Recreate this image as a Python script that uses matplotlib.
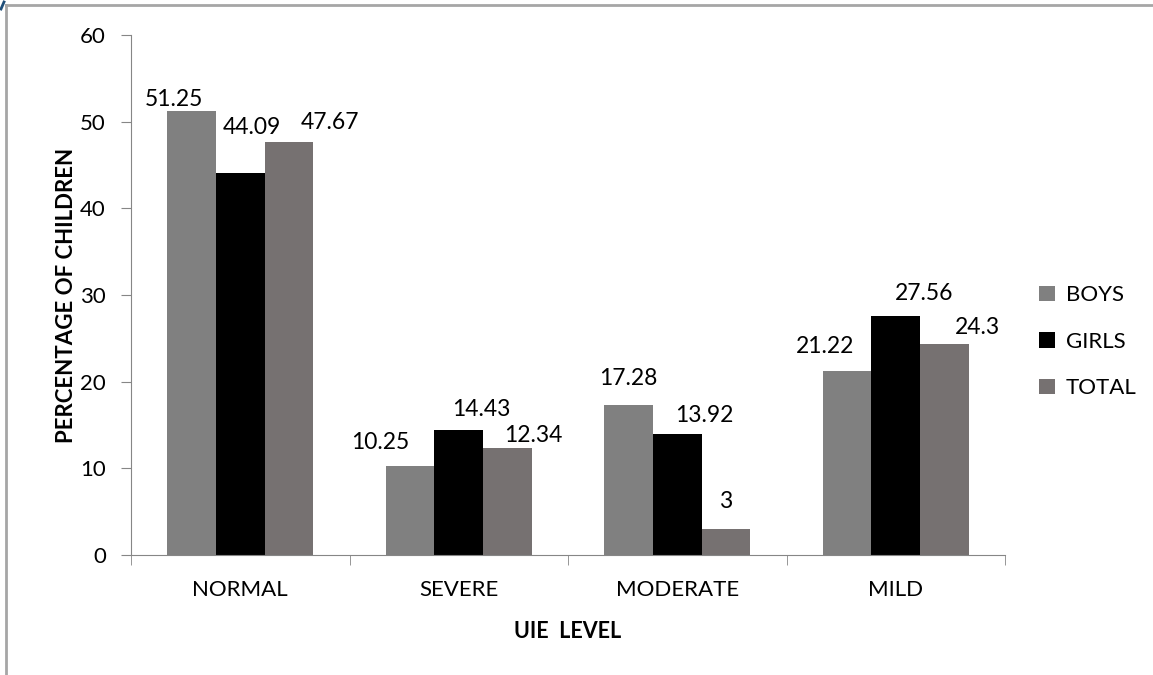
import matplotlib.pyplot as plt
import matplotlib.lines as mlines
import numpy as np

plt.rcParams['font.family'] = ['Lato', 'DejaVu Sans']

levels = ["NORMAL", "SEVERE", "MODERATE", "MILD"]
boys = [51.25, 10.25, 17.28, 21.22]
girls = [44.09, 14.43, 13.92, 27.56]
total = [47.67, 12.34, 3, 24.3]
series = ["BOYS", "GIRLS", "TOTAL"]
colors = ["#808080", "#000000", "#767171"]

# hand-placed label offsets (pixels from bar top centre)
label_shift = [
    [(-18, 11), (-30, 24), (0, 27), (-22, 25)],
    [(12, 45), (23, 20), (27, 19), (28, 23)],
    [(41, 19), (26, 13), (0, 27), (33, 17)],
]

fig = plt.figure(figsize=(11.53, 6.75), dpi=100)
ax = fig.add_axes([131/1153, 1 - 555/675, 874/1153, 520/675])

x = np.arange(len(levels))
w = 1 / 4.5
for k, (vals, name, c) in enumerate(zip([boys, girls, total], series, colors)):
    pos = x + (k - 1) * w
    ax.bar(pos, vals, width=w, color=c, label=name, zorder=2)
    for p, v, (dx, dy) in zip(pos, vals, label_shift[k]):
        ax.annotate(f"{v:g}", (p, v), xytext=(dx, dy), textcoords="offset pixels",
                    ha="center", va="center", fontsize=16.5)

ax.set_xlim(-0.5, len(levels) - 0.5)
ax.set_ylim(0, 60)
ax.set_yticks(range(0, 61, 10))
ax.set_xticks(x)
ax.set_xticklabels(levels)
# category separators as minor ticks
ax.set_xticks(np.arange(-0.5, len(levels)), minor=True)
ax.tick_params(axis="x", which="major", length=0, pad=18, labelsize=16)
ax.tick_params(axis="x", which="minor", length=7, color="#868686", direction="out")
ax.tick_params(axis="y", length=7, color="#868686", pad=11, labelsize=16)

for s in ["top", "right"]:
    ax.spines[s].set_visible(False)
for s in ["left", "bottom"]:
    ax.spines[s].set_color("#868686")

ax.set_xlabel("UIE  LEVEL", fontsize=15.5, fontweight="bold", labelpad=15)
ax.set_ylabel("PERCENTAGE OF CHILDREN", fontsize=16, fontweight="bold", labelpad=2)

ax.legend(loc="center left", bbox_to_anchor=(1.016, 0.41), frameon=False,
          fontsize=16, handlelength=0.7, handleheight=0.7, handletextpad=0.5,
          labelspacing=1.2)

# frame lines along the top and left edge
fig.add_artist(mlines.Line2D([6/1153, 1], [1 - 5/675, 1 - 5/675], color="#a6a6a6", lw=2))
fig.add_artist(mlines.Line2D([6/1153, 6/1153], [0, 1 - 5/675], color="#a6a6a6", lw=2))
fig.add_artist(mlines.Line2D([1/1153, 4/1153], [1 - 9/675, 1 - 2/675], color="#1f4e79", lw=2))

fig.savefig("out.png", dpi=100)
